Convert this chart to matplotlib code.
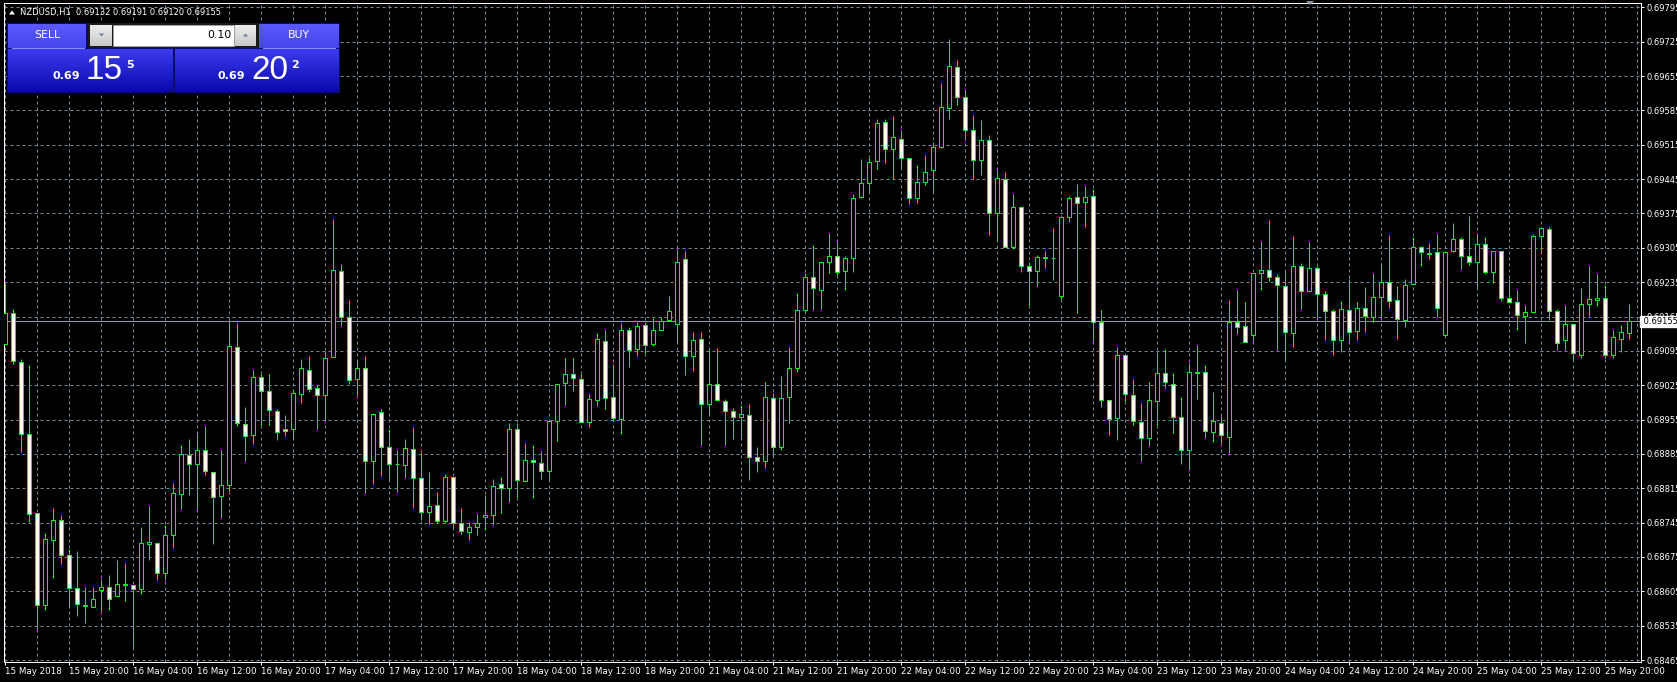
import numpy as np
import matplotlib
matplotlib.use("Agg")
import matplotlib.pyplot as plt
from matplotlib.patches import Rectangle, Polygon
from matplotlib.transforms import blended_transform_factory

# NZDUSD H1 candles, 15 May 2018 12:00 -> 25 May 2018 23:00
opens = [0.69108, 0.69172, 0.69072, 0.68925, 0.68764, 0.68577, 0.68709, 0.68750, 0.68679, 0.68611,
         0.68578, 0.68573, 0.68607, 0.68613, 0.68595, 0.68619, 0.68617, 0.68609, 0.68701, 0.68703,
         0.68642, 0.68719, 0.68803, 0.68882, 0.68864, 0.68892, 0.68848, 0.68799, 0.68821, 0.69102,
         0.68945, 0.68923, 0.69041, 0.69013, 0.68972, 0.68935, 0.68935, 0.69007, 0.69055, 0.69019,
         0.69005, 0.69082, 0.69257, 0.69163, 0.69037, 0.69060, 0.68870, 0.68970, 0.68899, 0.68864,
         0.68862, 0.68895, 0.68835, 0.68766, 0.68780, 0.68748, 0.68837, 0.68744, 0.68726, 0.68736,
         0.68756, 0.68760, 0.68823, 0.68815, 0.68935, 0.68829, 0.68872, 0.68866, 0.68850, 0.68952,
         0.69029, 0.69047, 0.69037, 0.68950, 0.68994, 0.69115, 0.69000, 0.68957, 0.69137, 0.69098,
         0.69147, 0.69108, 0.69137, 0.69157, 0.69149, 0.69282, 0.69084, 0.69119, 0.68986, 0.69027,
         0.68992, 0.68972, 0.68960, 0.68964, 0.68878, 0.68870, 0.68998, 0.68899, 0.69000, 0.69060,
         0.69178, 0.69246, 0.69220, 0.69276, 0.69288, 0.69257, 0.69284, 0.69408, 0.69437, 0.69481,
         0.69561, 0.69506, 0.69526, 0.69487, 0.69406, 0.69439, 0.69463, 0.69510, 0.69589, 0.69674,
         0.69612, 0.69545, 0.69484, 0.69525, 0.69375, 0.69445, 0.69306, 0.69388, 0.69267, 0.69257,
         0.69286, 0.69284, 0.69206, 0.69367, 0.69408, 0.69398, 0.69410, 0.69153, 0.68994, 0.68958,
         0.69086, 0.69005, 0.68950, 0.68917, 0.68992, 0.69049, 0.69027, 0.68960, 0.68892, 0.69051,
         0.69051, 0.68929, 0.68947, 0.68919, 0.69153, 0.69145, 0.69127, 0.69253, 0.69259, 0.69245,
         0.69227, 0.69131, 0.69267, 0.69216, 0.69263, 0.69210, 0.69176, 0.69117, 0.69178, 0.69135,
         0.69182, 0.69163, 0.69204, 0.69235, 0.69198, 0.69157, 0.69231, 0.69306, 0.69294, 0.69296,
         0.69127, 0.69298, 0.69322, 0.69288, 0.69276, 0.69312, 0.69255, 0.69298, 0.69202, 0.69194,
         0.69166, 0.69174, 0.69329, 0.69343, 0.69176, 0.69117, 0.69149, 0.69087, 0.69190, 0.69198,
         0.69202, 0.69087, 0.69119, 0.69132]
highs = [0.69233, 0.69180, 0.69078, 0.69066, 0.68764, 0.68723, 0.68775, 0.68760, 0.68691, 0.68687,
         0.68613, 0.68613, 0.68630, 0.68638, 0.68668, 0.68662, 0.68617, 0.68736, 0.68778, 0.68703,
         0.68740, 0.68825, 0.68903, 0.68915, 0.68927, 0.68941, 0.68848, 0.68892, 0.69157, 0.69151,
         0.68980, 0.69055, 0.69047, 0.69047, 0.68976, 0.68964, 0.69015, 0.69079, 0.69084, 0.69025,
         0.69094, 0.69363, 0.69271, 0.69198, 0.69076, 0.69084, 0.68968, 0.68976, 0.68935, 0.68892,
         0.68915, 0.68939, 0.68888, 0.68848, 0.68807, 0.68844, 0.68837, 0.68775, 0.68746, 0.68762,
         0.68801, 0.68833, 0.68837, 0.68947, 0.68947, 0.68907, 0.68903, 0.68890, 0.68952, 0.69027,
         0.69080, 0.69080, 0.69047, 0.69007, 0.69131, 0.69137, 0.69068, 0.69151, 0.69143, 0.69153,
         0.69153, 0.69161, 0.69163, 0.69206, 0.69302, 0.69298, 0.69133, 0.69133, 0.69096, 0.69100,
         0.68996, 0.68978, 0.68984, 0.68986, 0.68899, 0.69031, 0.69009, 0.69043, 0.69102, 0.69213,
         0.69253, 0.69311, 0.69276, 0.69335, 0.69316, 0.69288, 0.69414, 0.69485, 0.69487, 0.69567,
         0.69567, 0.69573, 0.69545, 0.69487, 0.69473, 0.69494, 0.69520, 0.69640, 0.69730, 0.69688,
         0.69627, 0.69576, 0.69566, 0.69535, 0.69464, 0.69459, 0.69414, 0.69388, 0.69277, 0.69290,
         0.69298, 0.69345, 0.69367, 0.69410, 0.69434, 0.69430, 0.69424, 0.69178, 0.68994, 0.69102,
         0.69086, 0.69037, 0.68988, 0.69031, 0.69092, 0.69098, 0.69049, 0.69000, 0.69070, 0.69106,
         0.69066, 0.69011, 0.68962, 0.69198, 0.69219, 0.69194, 0.69253, 0.69318, 0.69361, 0.69251,
         0.69255, 0.69329, 0.69274, 0.69316, 0.69267, 0.69216, 0.69180, 0.69196, 0.69241, 0.69194,
         0.69225, 0.69253, 0.69274, 0.69331, 0.69227, 0.69241, 0.69327, 0.69308, 0.69314, 0.69333,
         0.69296, 0.69355, 0.69327, 0.69369, 0.69331, 0.69327, 0.69298, 0.69298, 0.69241, 0.69219,
         0.69188, 0.69333, 0.69347, 0.69347, 0.69180, 0.69188, 0.69149, 0.69223, 0.69267, 0.69251,
         0.69229, 0.69137, 0.69147, 0.69191]
lows = [0.69108, 0.69069, 0.68888, 0.68747, 0.68528, 0.68566, 0.68633, 0.68660, 0.68574, 0.68555,
        0.68541, 0.68573, 0.68564, 0.68566, 0.68595, 0.68586, 0.68492, 0.68599, 0.68668, 0.68628,
        0.68628, 0.68693, 0.68772, 0.68801, 0.68772, 0.68842, 0.68701, 0.68754, 0.68809, 0.68941,
        0.68870, 0.68905, 0.68943, 0.68943, 0.68913, 0.68921, 0.68915, 0.68988, 0.69011, 0.68935,
        0.68952, 0.69082, 0.69145, 0.69027, 0.69005, 0.68805, 0.68823, 0.68839, 0.68833, 0.68807,
        0.68835, 0.68774, 0.68750, 0.68742, 0.68744, 0.68744, 0.68734, 0.68722, 0.68710, 0.68720,
        0.68730, 0.68740, 0.68764, 0.68787, 0.68797, 0.68829, 0.68795, 0.68833, 0.68833, 0.68911,
        0.68984, 0.69013, 0.68950, 0.68939, 0.68982, 0.68976, 0.68954, 0.68925, 0.69062, 0.69084,
        0.69090, 0.69104, 0.69137, 0.69157, 0.69110, 0.69045, 0.69053, 0.68903, 0.68964, 0.68994,
        0.68903, 0.68915, 0.68917, 0.68832, 0.68848, 0.68856, 0.68882, 0.68892, 0.68947, 0.69052,
        0.69174, 0.69178, 0.69181, 0.69253, 0.69249, 0.69219, 0.69255, 0.69406, 0.69420, 0.69465,
        0.69477, 0.69445, 0.69467, 0.69394, 0.69396, 0.69432, 0.69420, 0.69508, 0.69567, 0.69596,
        0.69525, 0.69445, 0.69453, 0.69332, 0.69318, 0.69306, 0.69302, 0.69255, 0.69188, 0.69227,
        0.69263, 0.69239, 0.69200, 0.69357, 0.69172, 0.69347, 0.69115, 0.68980, 0.68923, 0.68913,
        0.68992, 0.68943, 0.68870, 0.68901, 0.68943, 0.69019, 0.68927, 0.68864, 0.68852, 0.68996,
        0.68917, 0.68909, 0.68907, 0.68886, 0.69129, 0.69113, 0.69115, 0.69220, 0.69237, 0.69097,
        0.69076, 0.69102, 0.69180, 0.69216, 0.69163, 0.69117, 0.69087, 0.69093, 0.69115, 0.69117,
        0.69133, 0.69153, 0.69163, 0.69182, 0.69119, 0.69143, 0.69231, 0.69267, 0.69282, 0.69163,
        0.69127, 0.69296, 0.69261, 0.69269, 0.69223, 0.69251, 0.69233, 0.69196, 0.69194, 0.69137,
        0.69110, 0.69174, 0.69298, 0.69157, 0.69097, 0.69097, 0.69076, 0.69081, 0.69166, 0.69186,
        0.69081, 0.69081, 0.69092, 0.69120]
closes = [0.69172, 0.69074, 0.68925, 0.68762, 0.68577, 0.68711, 0.68750, 0.68679, 0.68611, 0.68579,
          0.68576, 0.68589, 0.68613, 0.68589, 0.68619, 0.68618, 0.68609, 0.68703, 0.68705, 0.68642,
          0.68719, 0.68805, 0.68884, 0.68864, 0.68892, 0.68850, 0.68797, 0.68821, 0.69104, 0.68947,
          0.68921, 0.69041, 0.69013, 0.68974, 0.68929, 0.68931, 0.69009, 0.69060, 0.69017, 0.69005,
          0.69080, 0.69259, 0.69163, 0.69035, 0.69060, 0.68870, 0.68966, 0.68899, 0.68864, 0.68865,
          0.68897, 0.68835, 0.68766, 0.68778, 0.68748, 0.68837, 0.68744, 0.68728, 0.68736, 0.68744,
          0.68760, 0.68819, 0.68815, 0.68935, 0.68831, 0.68872, 0.68868, 0.68850, 0.68952, 0.69027,
          0.69047, 0.69039, 0.68950, 0.68996, 0.69119, 0.68998, 0.68958, 0.69137, 0.69096, 0.69145,
          0.69106, 0.69137, 0.69155, 0.69176, 0.69277, 0.69084, 0.69117, 0.68986, 0.69027, 0.68994,
          0.68972, 0.68960, 0.68966, 0.68878, 0.68870, 0.69000, 0.68899, 0.68998, 0.69060, 0.69178,
          0.69246, 0.69223, 0.69276, 0.69288, 0.69255, 0.69284, 0.69406, 0.69437, 0.69479, 0.69559,
          0.69506, 0.69530, 0.69487, 0.69406, 0.69439, 0.69459, 0.69510, 0.69591, 0.69675, 0.69612,
          0.69545, 0.69484, 0.69525, 0.69375, 0.69447, 0.69306, 0.69388, 0.69267, 0.69257, 0.69286,
          0.69285, 0.69285, 0.69367, 0.69406, 0.69396, 0.69408, 0.69153, 0.68994, 0.68956, 0.69086,
          0.69007, 0.68952, 0.68917, 0.68994, 0.69049, 0.69031, 0.68960, 0.68892, 0.69051, 0.69050,
          0.68931, 0.68952, 0.68923, 0.69153, 0.69143, 0.69113, 0.69253, 0.69259, 0.69245, 0.69229,
          0.69133, 0.69267, 0.69216, 0.69263, 0.69210, 0.69176, 0.69117, 0.69180, 0.69133, 0.69182,
          0.69166, 0.69204, 0.69235, 0.69196, 0.69159, 0.69229, 0.69306, 0.69296, 0.69293, 0.69182,
          0.69296, 0.69322, 0.69288, 0.69277, 0.69312, 0.69255, 0.69298, 0.69202, 0.69194, 0.69168,
          0.69174, 0.69329, 0.69345, 0.69176, 0.69110, 0.69149, 0.69091, 0.69190, 0.69200, 0.69202,
          0.69087, 0.69123, 0.69133, 0.69155]

# one label every 8 bars
time_labels = ["15 May 2018", "15 May 20:00", "16 May 04:00", "16 May 12:00", "16 May 20:00",
               "17 May 04:00", "17 May 12:00", "17 May 20:00", "18 May 04:00", "18 May 12:00",
               "18 May 20:00", "21 May 04:00", "21 May 12:00", "21 May 20:00", "22 May 04:00",
               "22 May 12:00", "22 May 20:00", "23 May 04:00", "23 May 12:00", "23 May 20:00",
               "24 May 04:00", "24 May 12:00", "24 May 20:00", "25 May 04:00", "25 May 12:00",
               "25 May 20:00"]
price_ticks = [0.68465, 0.68535, 0.68605, 0.68675, 0.68745, 0.68815, 0.68885, 0.68955, 0.69025,
               0.69095, 0.69165, 0.69235, 0.69305, 0.69375, 0.69445, 0.69515, 0.69585, 0.69655,
               0.69725, 0.69795]

symbol = "NZDUSD,H1"
bid = 0.69155
ask = 0.69202
lot = "0.10"

W, H = 1677, 682
GREEN = "#00ff00"
GRID = "#778899"
px = 72.0 / 100  # one pixel in points

fig = plt.figure(figsize=(W / 100, H / 100), dpi=100, facecolor="black")
ax = fig.add_axes([4 / W, 1 - 661.7 / H, (1641 - 4) / W, (661.7 - 3.3) / H])
ax.set_facecolor("black")

o = np.array(opens)
h = np.array(highs)
l = np.array(lows)
c = np.array(closes)
x = np.arange(len(o))

# wicks then bodies (bearish = white filled, bullish = black)
ax.vlines(x, l, h, color=GREEN, lw=px, zorder=2)
body = np.where(np.abs(c - o) < 0.000005, 0.000004, c - o)
fills = np.where(c < o, "white", "black")
ax.bar(x, body, bottom=o, width=0.5, color=fills, edgecolor=GREEN, linewidth=px, zorder=3)

ax.axhline(bid, color="#8c98a6", lw=px, zorder=1)

ax.set_xlim(-0.16, 204.46)
ax.set_ylim(0.684616, 0.698032)

ax.set_xticks(np.arange(0, 8 * len(time_labels), 8))
ax.set_xticklabels(time_labels)
ax.set_xticks(np.arange(0, 205, 4), minor=True)
for t in ax.get_xticklabels():
    t.set_horizontalalignment("left")
ax.yaxis.tick_right()
ax.set_yticks(price_ticks)
ax.set_yticklabels([f"{p:.5f}" for p in price_ticks])

ax.set_axisbelow(True)
ax.grid(True, axis="x", which="both", color=GRID, lw=px, linestyle=(0, (3, 3)))
ax.grid(True, axis="y", which="major", color=GRID, lw=px, linestyle=(0, (3, 3)))
ax.tick_params(axis="both", which="major", colors="white", labelcolor="white",
               length=3 * px, width=px, pad=1.5)
ax.tick_params(axis="x", which="major", labelsize=6.3)
ax.tick_params(axis="y", which="major", labelsize=6)
ax.tick_params(axis="x", which="minor", length=0)
for s in ax.spines.values():
    s.set_color("white")
    s.set_linewidth(px)

# bid price box on the price scale
tr = blended_transform_factory(ax.transAxes, ax.transData)
ax.text(1.0, bid, f" {bid:.5f}   ", transform=tr, ha="left", va="center", fontsize=6,
        color="black", clip_on=False, zorder=10,
        bbox=dict(boxstyle="square,pad=0.14", fc="white", ec="white"))

# overlay in pixel coordinates for the header and the trading panel
ov = fig.add_axes([0, 0, 1, 1])
ov.axis("off")


def grad(x0, y0, x1, y1, top, bot):
    t = np.linspace(0, 1, 64)[:, None, None]
    a = np.array(matplotlib.colors.to_rgb(top))
    b = np.array(matplotlib.colors.to_rgb(bot))
    img = a * (1 - t) + b * t
    ov.imshow(img, extent=(x0, x1, y1, y0), aspect="auto", interpolation="bilinear", zorder=2)


ov.text(20, 12.5, f"{symbol}  {o[-1]:.5f} {h[-1]:.5f} {l[-1]:.5f} {c[-1]:.5f}",
        color="white", fontsize=6, va="center", ha="left")
ov.add_patch(Polygon([[9, 14.5], [15, 14.5], [12, 10.5]], closed=True, fc="white", ec="none"))
# chart shift marker at the top edge
ov.add_patch(Polygon([[1306, 1], [1314, 1], [1310, 5]], closed=True, fc="#8c98a6", ec="none"))

# panel frame
ov.add_patch(Rectangle((7, 23), 333, 69.5, fc="#0c0c6a", ec="none", zorder=1))
# sell / buy buttons
grad(8.5, 24.5, 86, 48, "#5a5aff", "#4646ee")
grad(258.5, 24.5, 339, 48, "#5a5aff", "#4646ee")
ov.plot([12, 84], [47.5, 47.5], color="#8a8aff", lw=px, zorder=3)
ov.plot([263, 335], [47.5, 47.5], color="#8a8aff", lw=px, zorder=3)
ov.text(47, 35.5, "SELL", color="white", fontsize=7.8, ha="center", va="center", zorder=4)
ov.text(299, 35.5, "BUY", color="white", fontsize=7.8, ha="center", va="center", zorder=4)
# lot size control
ov.add_patch(Rectangle((88, 23), 171, 25, fc="#1a1a1a", ec="none", zorder=2))
grad(90, 25, 112, 46, "#eeeeee", "#c8c8c8")
grad(235, 25, 256, 46, "#eeeeee", "#c8c8c8")
ov.add_patch(Rectangle((113, 25), 121.5, 21, fc="white", ec="#a0a0a0", lw=px, zorder=3))
ov.add_patch(Polygon([[99, 33.5], [104, 33.5], [101.5, 36.5]], closed=True, fc="#6a7a9a", ec="none", zorder=4))
ov.add_patch(Polygon([[243, 36.5], [248, 36.5], [245.5, 33.5]], closed=True, fc="#6a7a9a", ec="none", zorder=4))
ov.text(232, 35.5, lot, color="black", fontsize=7.8, ha="right", va="center", zorder=4)
# price boxes
grad(8.5, 49.5, 173, 91.5, "#3c3cf0", "#0a0aae")
grad(175.5, 49.5, 339, 91.5, "#3c3cf0", "#0a0aae")


def price_text(x0, value):
    s = f"{value:.5f}"
    ov.text(x0, 79, s[:4], color="white", fontsize=8, fontweight="bold", ha="left",
            va="baseline", zorder=4)
    ov.text(x0 + 33, 79, s[4:6], color="white", fontsize=24, family="Liberation Sans",
            ha="left", va="baseline", zorder=4)
    ov.text(x0 + 73, 68, s[6], color="white", fontsize=8, fontweight="bold", ha="left",
            va="baseline", zorder=4)


price_text(53, bid)
price_text(218, ask)

ov.set_xlim(0, W)
ov.set_ylim(H, 0)

fig.savefig("out.png", dpi=100, facecolor="black")
